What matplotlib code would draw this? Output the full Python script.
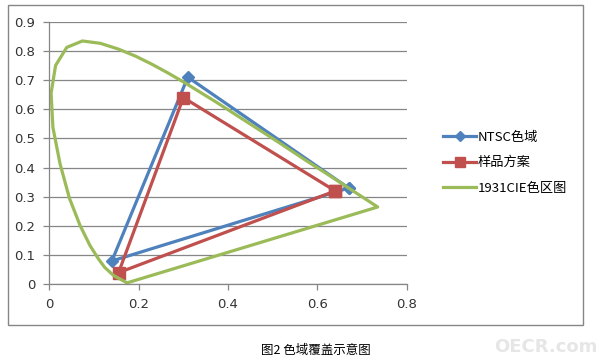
import matplotlib
matplotlib.use("Agg")
import matplotlib.pyplot as plt
from matplotlib.patches import Rectangle

plt.rcParams['font.family'] = ['DejaVu Sans', 'Noto Sans CJK SC']

# NTSC gamut triangle (closed)
ntsc_x = [0.67, 0.31, 0.14, 0.67]
ntsc_y = [0.33, 0.71, 0.08, 0.33]

# sample gamut triangle (closed)
sample_x = [0.64, 0.30, 0.155, 0.64]
sample_y = [0.32, 0.64, 0.04, 0.32]

# 1931 CIE spectral locus
cie_x = [0.174, 0.144, 0.124, 0.110, 0.091, 0.069, 0.045, 0.024, 0.008, 0.004,
         0.014, 0.039, 0.074, 0.114, 0.155, 0.193, 0.230, 0.266, 0.302, 0.337,
         0.373, 0.444, 0.513, 0.575, 0.627, 0.666, 0.692, 0.735, 0.174]
cie_y = [0.005, 0.030, 0.058, 0.087, 0.133, 0.201, 0.295, 0.413, 0.538, 0.655,
         0.750, 0.812, 0.834, 0.826, 0.806, 0.782, 0.754, 0.724, 0.692, 0.659,
         0.625, 0.555, 0.487, 0.424, 0.373, 0.334, 0.308, 0.265, 0.005]

labels = ["NTSC色域", "样品方案", "1931CIE色区图"]
x_ticks = [0, 0.2, 0.4, 0.6, 0.8]
x_ticklabels = ["0", "0.2", "0.4", "0.6", "0.8"]
y_ticks = [0, 0.1, 0.2, 0.3, 0.4, 0.5, 0.6, 0.7, 0.8, 0.9]
y_ticklabels = ["0", "0.1", "0.2", "0.3", "0.4", "0.5", "0.6", "0.7", "0.8", "0.9"]

grid_col = '#868686'

fig = plt.figure(figsize=(6.03, 3.62), dpi=100)
ax = fig.add_axes([0.0818, 0.2146, 0.5927, 0.7254])

ax.plot(ntsc_x, ntsc_y, color='#4F81BD', linewidth=2.3, marker='D', markersize=6.5,
        label=labels[0], solid_joinstyle='miter')
ax.plot(sample_x, sample_y, color='#C0504D', linewidth=2.3, marker='s', markersize=9,
        label=labels[1], solid_joinstyle='miter')
ax.plot(cie_x, cie_y, color='#9BBB59', linewidth=2.3, label=labels[2])

ax.set_xlim(0, 0.8)
ax.set_ylim(0, 0.9)
ax.set_xticks(x_ticks)
ax.set_xticklabels(x_ticklabels)
ax.set_yticks(y_ticks)
ax.set_yticklabels(y_ticklabels)
ax.yaxis.grid(True, color=grid_col, linewidth=0.9)
ax.set_axisbelow(True)

for side in ['top', 'right']:
    ax.spines[side].set_visible(False)
for side in ['left', 'bottom']:
    ax.spines[side].set_color(grid_col)
    ax.spines[side].set_linewidth(0.9)
ax.tick_params(axis='both', direction='out', length=4, width=0.9, color=grid_col,
               labelsize=9.5, labelcolor='#333333')
ax.tick_params(axis='y', pad=6)
ax.tick_params(axis='x', pad=6)

leg = fig.legend(loc='upper left', bbox_to_anchor=(0.715, 0.672), frameon=False,
                 handlelength=2.5, handletextpad=0.1, labelspacing=0.95,
                 numpoints=1, markerscale=0.75,
                 prop={'family': ['Noto Sans CJK SC', 'DejaVu Sans'], 'size': 9.5})

# outer chart frame
fig.patches.append(Rectangle((8 / 603, 1 - 325 / 362), 575 / 603, 320 / 362,
                             transform=fig.transFigure, fill=False,
                             edgecolor=grid_col, linewidth=1.0))

fig.text(0.524, 0.033, "图2 色域覆盖示意图", ha='center', va='center',
         family=['Noto Sans CJK SC', 'DejaVu Sans'], fontsize=9)
fig.text(0.905, 0.042, "OECR.com", ha='center', va='center', fontsize=13,
         fontweight='bold', color='#e6e6e6')

fig.savefig("out.png", dpi=100)
